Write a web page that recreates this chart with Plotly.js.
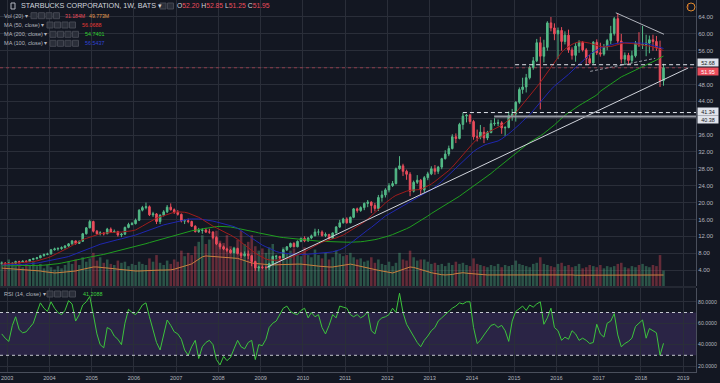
<!DOCTYPE html>
<html><head><meta charset="utf-8">
<script src="https://cdn.plot.ly/plotly-3.0.1.min.js"></script>
<style>html,body{margin:0;padding:0;background:#131722;overflow:hidden}#chart{width:720px;height:383px}</style>
</head><body><div id="chart"></div>
<script>
// ---- data (monthly candles, Nov 2002 .. Jul 2018) ----
const startYear = 2002, startMonth = 11, nBars = 189;
const months = [];
for (let i = 0; i < nBars; i++) {
  const m0 = startMonth - 1 + i;
  const y = startYear + Math.floor(m0 / 12), m = m0 % 12 + 1;
  months.push(y + '-' + String(m).padStart(2, '0') + '-15');
}
const openP = [5.5,5.6,5.3,5.5,5.6,6.0,5.8,6.1,6.0,6.5,
 6.7,6.9,7.4,7.7,7.8,8.8,9.0,9.1,9.3,9.7,
 10.2,10.9,10.3,10.8,12.6,14.0,15.5,13.2,12.6,12.8,
 12.6,13.7,13.0,13.1,12.3,12.5,14.1,14.8,15.0,15.8,
 18.2,18.8,19.0,17.1,17.3,15.5,17.0,17.8,18.9,18.3,
 17.7,17.2,15.6,15.7,15.5,14.4,13.1,13.4,13.5,13.0,
 13.0,11.7,10.2,9.5,9.0,8.7,8.1,9.1,7.9,7.4,
 7.8,7.4,6.0,4.5,4.7,4.6,4.6,5.5,7.2,7.2,
 6.9,8.8,9.5,10.3,9.5,10.8,11.5,10.9,11.6,12.1,
 13.0,13.0,12.2,12.4,11.5,12.8,14.2,15.2,16.1,15.2,
 16.5,18.5,18.1,18.8,19.8,20.1,19.3,18.6,21.2,21.8,
 23.0,24.0,24.5,28.0,28.7,27.4,26.7,22.7,24.8,25.3,
 23.0,25.9,26.8,28.0,27.4,28.4,30.4,31.5,32.8,35.6,
 35.2,38.5,40.5,40.7,39.2,35.6,35.5,36.7,35.3,36.6,
 38.7,38.8,38.9,37.7,37.8,40.6,41.0,43.8,46.8,47.4,
 49.6,52.0,53.6,57.9,54.7,56.8,62.6,61.4,60.0,60.8,
 58.2,59.7,56.2,54.9,57.1,58.0,56.2,54.1,53.1,58.0,
 55.5,55.2,56.9,58.4,60.1,63.6,58.3,54.0,54.9,53.7,
 54.8,57.8,57.4,57.5,57.8,58.6,58.2,56.7,48.9];
const highP = [6.0,5.9,5.9,5.8,6.2,6.2,6.3,6.3,6.6,6.9,
 7.1,7.6,7.9,8.1,9.0,9.3,9.4,9.6,9.9,10.4,
 11.1,11.0,11.0,12.8,14.2,15.9,15.7,13.5,13.2,13.0,
 14.0,14.1,13.6,13.3,12.8,14.3,15.2,15.4,16.2,18.4,
 19.2,20.0,19.3,17.8,17.5,17.2,18.2,19.4,19.8,18.6,
 18.2,17.4,16.0,16.2,15.7,14.6,14.0,13.9,14.0,13.8,
 13.2,12.0,10.5,9.8,9.3,9.0,9.5,9.3,8.3,8.4,
 8.6,7.6,6.2,5.0,5.1,5.0,5.7,7.4,7.6,7.4,
 9.0,9.7,10.5,10.6,11.0,11.7,12.0,11.8,12.4,13.8,
 13.7,13.4,12.9,12.6,12.9,14.4,15.9,16.4,16.5,16.7,
 18.7,18.8,19.1,20.0,20.6,20.3,19.9,21.8,22.8,23.4,
 24.6,25.1,28.3,31.0,29.2,27.8,27.2,25.2,26.5,25.6,
 26.3,27.3,28.6,28.9,28.7,30.6,32.4,33.5,36.2,36.4,
 38.9,41.3,41.0,41.0,39.6,37.3,38.4,37.9,37.0,39.6,
 40.0,39.7,39.3,38.1,41.6,42.2,44.0,47.3,49.6,50.5,
 52.4,54.5,58.8,59.3,58.6,63.0,64.0,62.5,61.5,61.6,
 60.6,61.0,56.8,57.8,58.5,58.3,56.6,55.0,58.3,58.7,
 57.9,57.6,58.8,61.9,64.0,64.9,60.0,55.6,55.5,56.0,
 58.3,60.4,61.9,59.8,59.6,59.8,59.5,58.4,52.9];
const lowP = [5.3,5.0,5.2,5.3,5.4,5.6,5.7,5.8,5.9,6.3,
 6.5,6.8,7.2,7.5,7.7,8.6,8.6,8.8,9.1,9.5,
 10.0,10.0,10.2,10.7,12.4,13.9,12.9,12.4,12.2,12.2,
 12.5,12.8,12.8,11.9,11.8,12.3,13.9,14.6,14.8,15.6,
 17.9,18.4,16.8,16.6,14.9,14.9,16.7,17.5,18.1,17.3,
 16.9,15.3,14.9,15.1,14.2,12.9,12.8,12.6,12.8,12.6,
 11.3,9.9,8.9,8.7,8.2,7.9,8.0,7.7,6.8,7.2,
 6.6,4.9,3.8,3.7,4.2,4.1,4.0,5.3,6.6,6.5,
 6.8,8.5,9.3,9.4,9.4,10.6,10.6,10.7,11.3,12.0,
 12.2,11.9,11.8,11.2,11.4,12.7,14.0,15.0,15.0,15.1,
 16.3,17.6,17.8,18.2,18.9,17.5,17.9,18.0,20.2,21.2,
 22.4,23.7,24.3,27.8,26.3,25.4,21.5,22.4,24.4,21.8,
 22.4,25.3,26.5,26.6,26.8,27.9,30.2,31.0,32.6,34.1,
 35.0,37.3,39.0,38.6,34.9,34.5,35.0,34.1,34.8,36.4,
 38.2,38.1,36.3,35.8,37.6,39.4,39.2,43.4,45.8,46.1,
 49.2,51.5,53.3,42.1,53.2,56.0,60.6,58.5,54.0,56.0,
 57.5,55.5,53.9,53.4,55.5,55.8,52.6,52.7,52.9,55.0,
 54.6,54.8,56.1,57.5,59.6,57.7,53.0,52.6,52.6,53.0,
 54.4,56.9,56.4,54.7,55.4,56.0,56.0,47.4,47.7];
const closeP = [5.6,5.3,5.5,5.6,6.0,5.8,6.1,6.0,6.5,6.7,
 6.9,7.4,7.7,7.8,8.8,9.0,9.1,9.3,9.7,10.2,
 10.9,10.3,10.8,12.6,14.0,15.5,13.2,12.6,12.8,12.6,
 13.7,13.0,13.1,12.3,12.5,14.1,14.8,15.0,15.8,18.2,
 18.8,19.0,17.1,17.3,15.5,17.0,17.8,18.9,18.3,17.7,
 17.2,15.6,15.7,15.5,14.4,13.1,13.4,13.5,13.0,13.0,
 11.7,10.2,9.5,9.0,8.7,8.1,9.1,7.9,7.4,7.8,
 7.4,6.0,4.5,4.7,4.6,4.6,5.5,7.2,7.2,6.9,
 8.8,9.5,10.3,9.5,10.8,11.5,10.9,11.6,12.1,13.0,
 13.0,12.2,12.4,11.5,12.8,14.2,15.2,16.1,15.2,16.5,
 18.5,18.1,18.8,19.8,20.1,19.3,18.6,21.2,21.8,23.0,
 24.0,24.5,28.0,28.7,27.4,26.7,22.7,24.8,25.3,23.0,
 25.9,26.8,28.0,27.4,28.4,30.4,31.5,32.8,35.6,35.2,
 38.5,40.5,40.7,39.2,35.6,35.5,36.7,35.3,36.6,38.7,
 38.8,38.9,37.7,37.8,40.6,41.0,43.8,46.8,47.4,49.6,
 52.0,53.6,57.9,54.7,56.8,62.6,61.4,60.0,60.8,58.2,
 59.7,56.2,54.9,57.1,58.0,56.2,54.1,53.1,58.0,55.5,
 55.2,56.9,58.4,60.1,63.6,58.3,54.0,54.9,53.7,54.8,
 57.8,57.4,57.5,57.8,58.6,58.2,56.7,48.9,51.95];
const ma50 = [5.4,5.45,5.5,5.55,5.6,5.65,5.7,5.8,5.9,6.0,
 6.15,6.35,6.6,6.9,7.2,7.6,8.0,8.4,8.8,9.3,
 9.8,10.3,10.8,11.2,11.5,11.8,12.1,12.35,12.6,12.75,
 12.85,12.95,13.0,13.0,13.0,13.05,13.1,13.3,13.5,13.9,
 14.4,14.9,15.4,15.9,16.3,16.6,16.9,17.2,17.5,17.7,
 17.8,17.8,17.7,17.5,17.2,16.9,16.5,16.0,15.4,14.8,
 14.4,14.0,13.5,13.1,12.7,12.3,11.9,11.3,10.6,9.9,
 9.2,8.6,8.0,7.5,7.0,6.6,6.4,6.3,6.3,6.4,
 6.5,6.7,6.9,7.2,7.5,7.9,8.3,8.8,9.3,9.8,
 10.2,10.6,10.9,11.2,11.4,11.6,11.9,12.3,12.8,13.3,
 13.8,14.3,14.8,15.4,16.1,16.8,17.5,18.3,19.1,19.9,
 20.6,21.2,21.7,22.1,22.4,22.7,22.9,23.0,23.0,23.1,
 23.5,23.9,24.4,25.0,25.6,26.2,26.9,27.6,28.4,29.3,
 30.3,31.3,32.3,33.3,34.2,35.0,35.6,36.1,36.6,37.0,
 37.4,37.8,38.3,38.9,39.6,40.4,41.3,42.3,43.3,44.3,
 45.3,46.3,47.4,48.5,49.7,50.9,52.1,53.3,54.5,55.6,
 56.4,57.0,57.5,57.9,58.1,58.1,58.0,57.8,57.5,57.2,
 57.0,56.9,56.9,57.0,57.2,57.5,57.7,57.8,57.8,57.7,
 57.6,57.5,57.4,57.3,57.1,56.9,56.6,56.3,56.07];
const ma100 = [5.2,5.2,5.25,5.25,5.3,5.3,5.35,5.4,5.45,5.55,
 5.65,5.8,5.95,6.1,6.3,6.5,6.7,6.85,7.0,7.2,
 7.5,7.8,8.1,8.4,8.7,9.0,9.4,9.8,10.1,10.35,
 10.6,10.8,11.0,11.2,11.4,11.6,11.8,12.0,12.3,12.6,
 12.9,13.2,13.5,13.8,14.1,14.4,14.7,14.9,15.1,15.3,
 15.5,15.7,15.9,16.05,16.1,16.15,16.1,16.0,15.9,15.75,
 15.6,15.4,15.2,15.0,14.8,14.6,14.3,13.9,13.4,12.8,
 12.2,11.6,11.0,10.4,9.9,9.5,9.1,8.7,8.4,8.15,
 8.0,7.9,7.8,7.75,7.7,7.7,7.7,7.75,7.8,7.85,
 7.9,8.0,8.1,8.2,8.3,8.5,8.8,9.2,9.7,10.3,
 10.9,11.6,12.3,12.9,13.5,14.1,14.8,15.5,16.2,16.8,
 17.3,17.8,18.3,18.8,19.3,19.8,20.3,20.8,21.3,21.8,
 22.2,22.6,23.0,23.6,24.3,25.0,25.8,26.6,27.4,28.2,
 29.0,29.8,30.6,31.4,32.1,32.7,33.2,33.6,33.9,34.1,
 34.3,34.6,35.1,35.6,36.3,37.0,37.7,38.5,39.3,40.0,
 40.8,41.8,42.8,43.8,44.9,45.9,46.8,47.6,48.3,48.9,
 49.6,50.4,51.2,52.0,52.8,53.6,54.4,55.1,55.7,56.2,
 56.6,56.9,57.2,57.4,57.6,57.8,57.9,57.9,57.9,57.9,
 57.9,57.8,57.8,57.7,57.5,57.3,57.0,56.8,56.54];
const ma200 = [5.0,5.0,4.95,4.95,4.95,4.95,5.0,5.0,5.0,5.0,
 5.05,5.1,5.15,5.2,5.3,5.4,5.5,5.65,5.8,6.0,
 6.15,6.3,6.5,6.7,6.9,7.1,7.25,7.4,7.55,7.7,
 7.9,8.1,8.3,8.5,8.7,8.9,9.1,9.3,9.5,9.75,
 10.0,10.25,10.5,10.75,11.0,11.2,11.45,11.7,11.95,12.2,
 12.45,12.7,12.9,13.1,13.3,13.45,13.6,13.75,13.9,14.05,
 14.2,14.3,14.35,14.35,14.3,14.2,14.05,13.9,13.75,13.6,
 13.4,13.2,13.0,12.8,12.6,12.4,12.25,12.1,11.95,11.8,
 11.7,11.6,11.5,11.4,11.3,11.2,11.1,11.0,10.95,10.9,
 10.85,10.8,10.75,10.7,10.7,10.65,10.6,10.6,10.6,10.6,
 10.6,10.65,10.7,10.8,10.9,11.0,11.2,11.4,11.6,11.8,
 12.1,12.4,12.7,13.0,13.4,13.8,14.2,14.7,15.2,15.7,
 16.2,16.8,17.4,17.9,18.4,18.9,19.4,19.9,20.4,20.9,
 21.5,22.1,22.7,23.3,23.9,24.5,25.1,25.7,26.3,26.9,
 27.6,28.3,29.0,29.7,30.4,31.1,31.8,32.5,33.1,33.7,
 34.3,34.8,35.2,35.8,36.4,37.0,37.7,38.4,39.2,40.0,
 40.7,41.3,41.9,42.5,43.0,43.5,44.0,44.5,45.0,45.5,
 46.4,47.0,47.6,48.2,48.8,49.3,49.8,50.2,50.6,50.9,
 51.3,51.7,52.1,52.5,52.9,53.3,53.8,54.3,54.74];
const volume = [110,95,120,100,90,105,85,100,95,110,
 90,100,80,95,85,75,90,80,95,110,
 100,120,95,130,110,125,150,115,130,105,
 120,100,95,115,105,110,90,100,95,110,
 100,95,125,110,140,105,95,115,100,120,
 110,160,135,150,140,180,200,230,190,210,
 220,250,205,195,230,180,175,210,250,190,
 200,230,180,160,170,150,175,190,140,135,
 175,145,160,170,140,135,175,140,130,165,
 140,125,150,120,130,160,145,135,140,150,
 130,120,125,110,115,130,105,120,100,95,
 110,90,105,150,120,115,160,130,115,120,
 120,110,100,105,95,100,90,105,95,110,
 100,105,95,90,125,100,95,90,85,95,
 90,100,85,95,90,95,115,100,95,90,
 85,100,105,130,100,95,90,85,100,105,
 90,95,85,90,100,80,85,95,90,85,
 95,80,90,85,90,100,105,85,80,90,
 85,95,100,90,85,95,90,140,70];
const volMA = [81,80,79,78,77,76,75,74,73,72,
 70,68,65,62,59,59,60,61,62,63,
 65,68,72,76,80,84,86,86,85,84,
 82,80,78,76,74,72,70,69,68,68,
 69,70,71,71,72,72,72,72,73,76,
 80,85,90,95,100,110,122,132,136,135,
 133,131,130,129,128,127,127,125,120,114,
 108,104,102,100,98,96,95,95,96,97,
 98,99,99,99,99,99,98,96,94,92,
 90,88,87,86,86,88,91,94,97,99,
 96,92,88,84,80,77,74,71,68,65,
 62,59,64,70,76,82,86,84,80,75,
 70,65,60,56,53,51,50,50,52,56,
 59,60,58,56,54,53,52,51,50,50,
 50,50,50,51,51,52,52,53,53,52,
 51,50,50,51,52,52,51,50,50,51,
 51,50,50,49,49,50,50,51,51,50,
 50,50,49,49,50,50,49,49,49,49,
 49,49,50,50,49,49,49,50,49.77];
const rsi = [50,46,43,58,66,54,51,52,56,60,
 70,79,74,71,80,74,70,68,72,81,
 78,62,68,77,80,85,68,50,40,37,
 56,54,48,45,40,60,73,70,68,72,
 77,79,66,54,42,35,50,63,58,52,
 50,45,35,30,38,44,27,38,42,44,
 40,26,21,29,25,28,36,44,38,36,
 42,44,26,40,39,45,56,60,62,68,
 74,76,71,69,68,72,74,65,70,66,
 68,56,50,58,68,65,76,75,74,68,
 66,68,65,67,71,53,50,62,65,66,
 68,74,70,88,70,59,53,47,42,38,
 44,48,53,56,62,65,68,71,74,76,
 79,78,80,80,56,41,44,49,53,58,
 59,56,58,53,43,62,71,74,76,72,
 77,75,78,80,59,65,74,56,53,44,
 47,45,53,50,44,46,44,41,42,59,
 50,47,60,62,69,49,38,41,43,46,
 57,60,63,46,55,53,51,30,41.2];
const priceTicks = [4,8,12,16,20,24,28,32,36,40,44,48,52,56,60,64,68];
// ticks hidden behind the price tags keep their grid lines but show no label
const priceTickText = ['4.00','8.00','12.00','16.00','20.00','24.00','28.00','32.00','36.00','','44.00','48.00','','56.00','60.00','64.00','68.00'];
const rsiTicks = [20,40,60,80];
const levels = {top: 52.68, last: 51.95, res1: 41.34, res2: 40.38};

// ---- geometry ----
const W = 720, H = 383, ML = 0, MR = 24, MT = 0, MB = 11;
const PW = W - ML - MR, PH = H - MT - MB;
const px = x => (x - ML) / PW, py = y => 1 - (y - MT) / PH;
const FONT = 'Liberation Sans, Arial, sans-serif';
const GRID = '#2a2e39', TXT = '#b2b5be', UP = '#53b987', DN = '#eb4d5c';

const volColors = closeP.map((c, i) => c >= openP[i] ? 'rgba(83,185,135,0.38)' : 'rgba(235,77,92,0.38)');

const traces = [
  {type: 'bar', x: months, y: volume, xaxis: 'x', yaxis: 'y', marker: {color: volColors, line: {width: 0}},
   width: 22 * 864e5, hoverinfo: 'skip'},
  {type: 'scatter', mode: 'lines', x: months, y: volMA, xaxis: 'x', yaxis: 'y', line: {color: '#c9803f', width: 1}, hoverinfo: 'skip'},
  {type: 'candlestick', x: months, open: openP, high: highP, low: lowP, close: closeP, xaxis: 'x', yaxis: 'y2',
   increasing: {line: {color: UP, width: 1}, fillcolor: UP}, decreasing: {line: {color: DN, width: 1}, fillcolor: DN},
   whiskerwidth: 0, hoverinfo: 'skip'},
  {type: 'scatter', mode: 'lines', x: months, y: ma200, xaxis: 'x', yaxis: 'y2', line: {color: '#1f9e1f', width: 1}, hoverinfo: 'skip'},
  {type: 'scatter', mode: 'lines', x: months, y: ma100, xaxis: 'x', yaxis: 'y2', line: {color: '#1f27b0', width: 1}, hoverinfo: 'skip'},
  {type: 'scatter', mode: 'lines', x: months, y: ma50, xaxis: 'x', yaxis: 'y2', line: {color: '#a01c1c', width: 1}, hoverinfo: 'skip'},
  {type: 'scatter', mode: 'lines', x: months, y: rsi, xaxis: 'x', yaxis: 'y3', line: {color: '#3cc43c', width: 1}, hoverinfo: 'skip'}
];

const shapes = [
  {type: 'rect', xref: 'paper', x0: 0, x1: 1, yref: 'y3', y0: 30, y1: 70, fillcolor: 'rgba(126,87,194,0.22)', line: {width: 0}, layer: 'below'},
  {type: 'line', xref: 'paper', x0: 0, x1: 1, yref: 'y3', y0: 70, y1: 70, line: {color: '#c3c6ce', width: 1, dash: '3px,3px'}},
  {type: 'line', xref: 'paper', x0: 0, x1: 1, yref: 'y3', y0: 30, y1: 30, line: {color: '#c3c6ce', width: 1, dash: '3px,3px'}},
  {type: 'line', xref: 'paper', x0: 0, x1: 1, yref: 'paper', y0: py(287), y1: py(287), line: {color: '#363a45', width: 1}},
  {type: 'line', xref: 'x', yref: 'y2', x0: '2009-02-25', y0: 4.65, x1: '2019-02-13', y1: 51.9, line: {color: '#d1d4dc', width: 1}},
  {type: 'line', xref: 'x', yref: 'y2', x0: '2017-05-29', y0: 65.0, x1: '2018-07-19', y1: 59.9, line: {color: '#b2b5be', width: 1}},
  {type: 'line', xref: 'x', yref: 'y2', x0: '2016-10-19', y0: 51.1, x1: '2018-05-04', y1: 54.2, line: {color: '#9598a1', width: 1, dash: '3px,2px'}},
  {type: 'line', xref: 'x', yref: 'y2', x0: '2015-01-09', y0: levels.top, x1: '2019-04-22', y1: levels.top, line: {color: '#e0e3eb', width: 1, dash: '4px,3px'}},
  {type: 'line', xref: 'x', yref: 'y2', x0: '2013-10-15', y0: levels.res1, x1: '2019-04-22', y1: levels.res1, line: {color: '#e0e3eb', width: 1, dash: '4px,3px'}},
  {type: 'line', xref: 'x', yref: 'y2', x0: '2014-07-12', y0: levels.res2, x1: '2019-04-22', y1: levels.res2, line: {color: '#9598a1', width: 2}},
  {type: 'line', xref: 'paper', yref: 'y2', x0: 0, y0: levels.last, x1: 1, y1: levels.last, line: {color: 'rgba(235,77,92,0.55)', width: 1, dash: 'dot'}},
  {type: 'circle', xref: 'paper', yref: 'paper', x0: px(687), x1: px(695), y0: py(11), y1: py(3), line: {color: '#e0892e', width: 1}}
];

function boxes(x0, y, n) {
  for (let k = 0; k < n; k++) {
    const a = x0 + k * 7.5;
    shapes.push({type: 'rect', xref: 'paper', yref: 'paper', x0: px(a), x1: px(a + 6), y0: py(y + 3), y1: py(y - 3),
      fillcolor: '#2a2e39', line: {color: '#434651', width: 1}});
  }
}
boxes(160, 6, 2); boxes(31, 15.7, 4); boxes(47, 25, 4); boxes(50, 34.3, 4); boxes(50, 43.3, 4); boxes(47, 294, 4);
shapes.push({type: 'rect', xref: 'paper', yref: 'paper', x0: px(11), x1: px(15), y0: py(9), y1: py(3), line: {color: TXT, width: 1}});

function T(x, y, text, size, color, extra) {
  return Object.assign({xref: 'paper', yref: 'paper', x: px(x), y: py(y), xanchor: 'left', yanchor: 'middle',
    text: text, showarrow: false, font: {family: FONT, size: size, color: color}}, extra || {});
}
const red = s => '<span style="color:#eb4d5c">' + s + '</span>';
const tag = (y, txt, fg, bg) => T(697, y, txt, 5.4, fg, {bgcolor: bg, borderpad: 0, height: 7, width: 20, align: 'center'});
const annotations = [
  T(19, 6, 'STARBUCKS CORPORATION, 1W, BATS ▾', 7.2, '#d1d4dc'),
  T(175, 6, 'O' + red('52.20') + ' H' + red('52.85') + ' L' + red('51.25') + ' C' + red('51.95'), 6.8, '#d1d4dc'),
  T(2, 15.7, 'Vol (20) ▾', 5.6, TXT),
  T(63, 15.7, '31.184M', 5.2, '#eb4d5c'),
  T(87, 15.7, '49.773M', 5.2, '#e39a4f'),
  T(2, 25, 'MA (50, close) ▾', 5.6, TXT),
  T(80, 25, '56.0688', 5.4, '#e53935'),
  T(2, 34.3, 'MA (200, close) ▾', 5.6, TXT),
  T(83, 34.3, '54.7401', 5.4, '#2ed12e'),
  T(2, 43.3, 'MA (100, close) ▾', 5.6, TXT),
  T(83, 43.3, '56.5437', 5.4, '#2f43d6'),
  T(2, 294, 'RSI (14, close) ▾', 5.6, TXT),
  T(81, 294, '41.2088', 5.4, '#3fd13f'),
  T(688.2, 7, '!', 6, '#e0892e', {xanchor: 'center'}),
  tag(63, levels.top.toFixed(2), '#131722', '#e0e3eb'),
  tag(71, levels.last.toFixed(2), '#ffffff', '#eb4d5c'),
  tag(112, levels.res1.toFixed(2), '#131722', '#e0e3eb'),
  tag(120, levels.res2.toFixed(2), '#131722', '#e0e3eb')
];

const layout = {
  width: W, height: H, margin: {l: ML, r: MR, t: MT, b: MB, pad: 0},
  paper_bgcolor: '#131722', plot_bgcolor: 'rgba(0,0,0,0)', showlegend: false, hovermode: false,
  font: {family: FONT, color: TXT},
  xaxis: {type: 'date', range: ['2002-10-31', '2019-04-22'], anchor: 'y3', tickformat: '%Y', dtick: 'M12', tick0: '2003-01-01',
    showgrid: true, gridcolor: GRID, gridwidth: 1, ticks: '', tickfont: {size: 5.6, color: TXT}, showline: true, linecolor: '#4a4f5c',
    zeroline: false, rangeslider: {visible: false}, fixedrange: true},
  yaxis: {domain: [py(286), 1], range: [0, 1294], visible: false, showgrid: false, zeroline: false, fixedrange: true},
  yaxis2: {overlaying: 'y', side: 'right', anchor: 'x', range: [0.21, 68.03], tickmode: 'array', tickvals: priceTicks, ticktext: priceTickText,
    showgrid: true, gridcolor: GRID, zeroline: false, ticks: '', tickfont: {size: 6, color: TXT}, showline: true, linecolor: '#4a4f5c', fixedrange: true},
  yaxis3: {domain: [0, py(288)], range: [14.4, 92.9], side: 'right', anchor: 'x', tickvals: rsiTicks, tickformat: '.4f',
    showgrid: true, gridcolor: GRID, zeroline: false, ticks: '', tickfont: {size: 5.2, color: TXT}, showline: true, linecolor: '#4a4f5c', fixedrange: true},
  shapes: shapes, annotations: annotations
};

Plotly.newPlot('chart', traces, layout, {staticPlot: true, displayModeBar: false});
</script></body></html>
